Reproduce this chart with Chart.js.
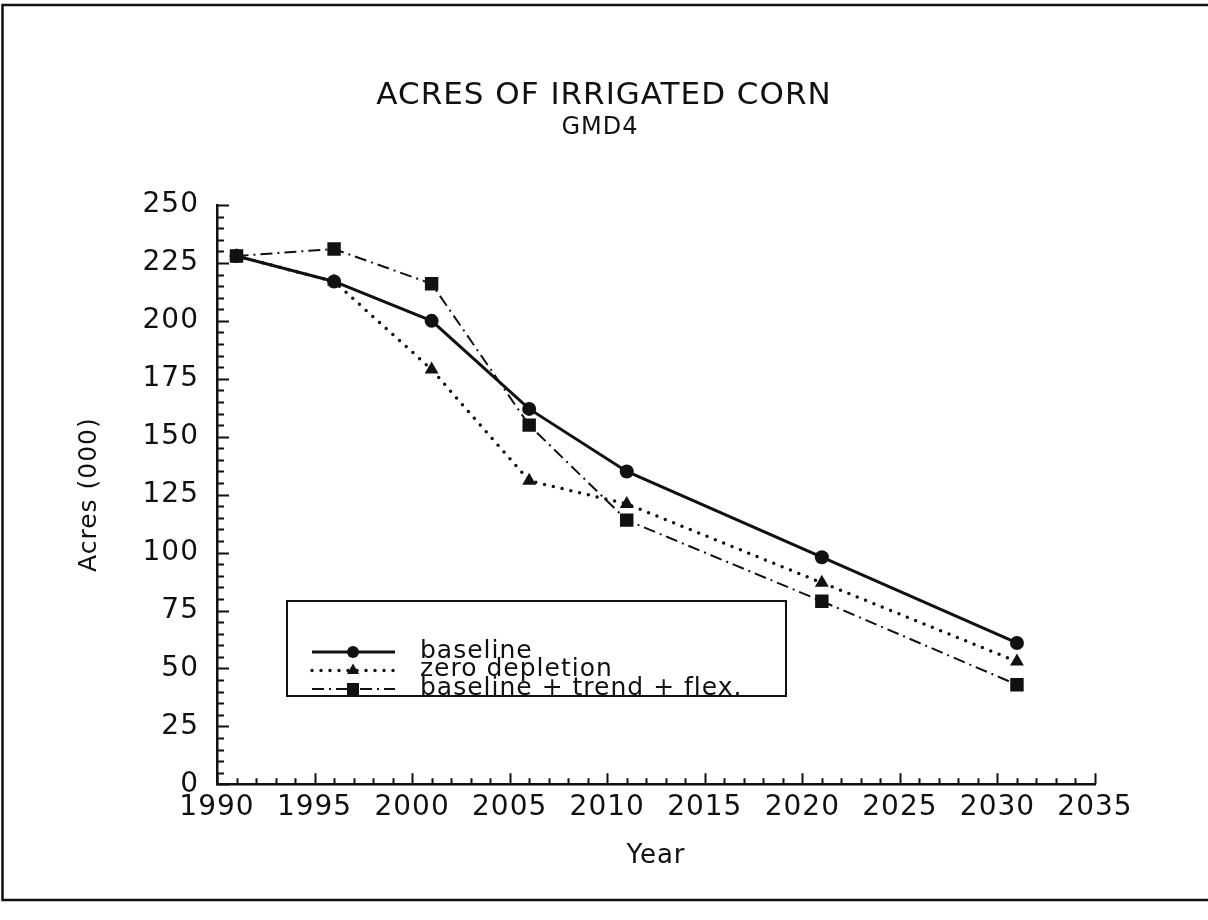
<!DOCTYPE html>
<html>
<head>
<meta charset="utf-8">
<script src="https://cdn.jsdelivr.net/npm/chart.js@4.4.1/dist/chart.umd.min.js"></script>
<style>
html,body{margin:0;padding:0;background:#fff;}
#wrap{position:relative;width:1208px;height:920px;}
canvas{display:block;}
</style>
</head>
<body>
<div id="wrap"><canvas id="c" width="1208" height="920"></canvas></div>
<script>
// ---- data ----
const years = [1991, 1996, 2001, 2006, 2011, 2021, 2031];
const baseline = [228, 217, 200, 162, 135, 98, 61];
const zeroDepletion = [228, 217, 179, 131, 121, 87, 53];
const trendFlex = [228, 231, 216, 155, 114, 79, 43];
const seriesLabels = ['baseline', 'zero depletion', 'baseline + trend + flex.'];
const xTickLabels = [1990, 1995, 2000, 2005, 2010, 2015, 2020, 2025, 2030, 2035];
const yTickLabels = [0, 25, 50, 75, 100, 125, 150, 175, 200, 225, 250];
const titleText = 'ACRES OF IRRIGATED CORN';
const subtitleText = 'GMD4';
const xTitle = 'Year';
const yTitle = 'Acres (000)';

const INK = '#111';
const FAMILY = '"DejaVu Sans", sans-serif';
Chart.defaults.font.family = FAMILY;
Chart.defaults.color = INK;

const toPts = (vals) => years.map((y, i) => ({x: y, y: vals[i]}));

const spacingPlugin = {
  id: 'spacing',
  beforeLayout(chart) { chart.ctx.letterSpacing = '1px'; },
  beforeDraw(chart) { chart.ctx.letterSpacing = '1px'; }
};

const framePlugin = {
  id: 'frame',
  beforeDraw(chart) {
    const ctx = chart.ctx;
    ctx.save();
    ctx.fillStyle = '#fff';
    ctx.fillRect(0, 0, chart.width, chart.height);
    ctx.strokeStyle = INK;
    ctx.lineWidth = 2.5;
    ctx.beginPath();
    ctx.moveTo(1208, 5);
    ctx.lineTo(2.5, 5);
    ctx.lineTo(2.5, 900);
    ctx.lineTo(1208, 900);
    ctx.stroke();
    ctx.restore();
  }
};

const headingPlugin = {
  id: 'heading',
  afterDraw(chart) {
    const ctx = chart.ctx;
    ctx.save();
    ctx.fillStyle = INK;
    ctx.textAlign = 'center';
    ctx.textBaseline = 'middle';
    ctx.letterSpacing = '1px';
    ctx.font = '31px ' + FAMILY;
    ctx.fillText(titleText, 604, 96);
    ctx.font = '24px ' + FAMILY;
    ctx.fillText(subtitleText, 600, 128);
    ctx.restore();
  }
};

const ticksPlugin = {
  id: 'inwardTicks',
  beforeDatasetsDraw(chart) {
    const ctx = chart.ctx;
    const xs = chart.scales.x, ys = chart.scales.y;
    const area = chart.chartArea;
    ctx.save();
    ctx.strokeStyle = INK;
    ctx.lineWidth = 2;
    ctx.beginPath();
    for (let v = xs.min; v <= xs.max; v += 1) {
      const px = Math.round(xs.getPixelForValue(v)) + 0.5;
      const len = xTickLabels.includes(v) ? 11 : 6;
      ctx.moveTo(px, area.bottom);
      ctx.lineTo(px, area.bottom - len);
    }
    for (let v = ys.min; v <= ys.max; v += 5) {
      const py = Math.round(ys.getPixelForValue(v)) + 0.5;
      const len = yTickLabels.includes(v) ? 12 : 7;
      ctx.moveTo(area.left, py);
      ctx.lineTo(area.left + len, py);
    }
    ctx.stroke();
    ctx.restore();
  }
};

const legendPlugin = {
  id: 'boxLegend',
  afterDraw(chart) {
    const ctx = chart.ctx;
    ctx.save();
    ctx.letterSpacing = '1px';
    ctx.strokeStyle = INK;
    ctx.lineWidth = 2;
    ctx.setLineDash([]);
    ctx.strokeRect(287, 601, 499, 95);
    ctx.font = '25px ' + FAMILY;
    ctx.fillStyle = INK;
    ctx.textBaseline = 'middle';
    ctx.textAlign = 'left';
    chart.data.datasets.forEach((ds, i) => {
      const y = 652 + i * 18.5;
      ctx.save();
      ctx.strokeStyle = INK;
      ctx.lineWidth = ds.borderWidth;
      ctx.lineCap = ds.borderCapStyle || 'butt';
      ctx.setLineDash(ds.borderDash || []);
      ctx.beginPath();
      ctx.moveTo(312, y);
      ctx.lineTo(395, y);
      ctx.stroke();
      ctx.setLineDash([]);
      ctx.fillStyle = INK;
      Chart.helpers.drawPoint(ctx, {pointStyle: ds.pointStyle, radius: ds.pointRadius - 1, rotation: 0, borderWidth: 0}, 353, y);
      ctx.restore();
      ctx.fillText(ds.label, 420, y - 1);
    });
    ctx.restore();
  }
};

new Chart(document.getElementById('c'), {
  type: 'line',
  data: {
    datasets: [
      {
        label: seriesLabels[0], data: toPts(baseline),
        borderColor: INK, borderWidth: 3, borderDash: [],
        pointStyle: 'circle', pointRadius: 7, pointBackgroundColor: INK, pointBorderWidth: 0,
        tension: 0
      },
      {
        label: seriesLabels[1], data: toPts(zeroDepletion),
        borderColor: INK, borderWidth: 3.5, borderDash: [0, 9], borderCapStyle: 'round',
        pointStyle: 'triangle', pointRadius: 8, pointBackgroundColor: INK, pointBorderWidth: 0,
        tension: 0
      },
      {
        label: seriesLabels[2], data: toPts(trendFlex),
        borderColor: INK, borderWidth: 2, borderDash: [12, 5, 2, 5],
        pointStyle: 'rect', pointRadius: 9.5, pointBackgroundColor: INK, pointBorderWidth: 0,
        tension: 0
      }
    ]
  },
  options: {
    responsive: false,
    animation: false,
    events: [],
    devicePixelRatio: 1,
    layout: { padding: { left: 74, right: 113, top: 205, bottom: 0 } },
    plugins: {
      legend: { display: false },
      tooltip: { enabled: false },
      title: { display: false },
      subtitle: { display: false }
    },
    scales: {
      x: {
        type: 'linear', min: 1990, max: 2035,
        afterBuildTicks(scale) { scale.ticks = xTickLabels.map(v => ({value: v})); },
        afterFit(scale) { scale.height = 920 - 784.3; },
        ticks: {
          callback: v => String(v), autoSkip: false, maxRotation: 0, minRotation: 0,
          font: { size: 28, family: FAMILY, lineHeight: 1.2 }, color: INK, padding: 7
        },
        grid: { display: false, drawTicks: false },
        border: { display: true, color: INK, width: 2.5 },
        title: {
          display: true, text: xTitle, color: INK,
          font: { size: 26, family: FAMILY, lineHeight: 1.2 },
          padding: { top: 0, bottom: 48 }
        }
      },
      y: {
        type: 'linear', min: 0, max: 250,
        afterBuildTicks(scale) { scale.ticks = yTickLabels.map(v => ({value: v})); },
        afterFit(scale) { scale.width = 217 - 74; },
        ticks: {
          callback: v => String(v), autoSkip: false,
          font: { size: 28, family: FAMILY }, color: INK, padding: 18
        },
        grid: { display: false, drawTicks: false },
        border: { display: true, color: INK, width: 2.5 },
        title: {
          display: true, text: yTitle, color: INK,
          font: { size: 25, family: FAMILY, lineHeight: 1.2 },
          padding: { top: 0, bottom: 0 }
        }
      }
    }
  },
  plugins: [spacingPlugin, framePlugin, ticksPlugin, legendPlugin, headingPlugin]
});
</script>
</body>
</html>
